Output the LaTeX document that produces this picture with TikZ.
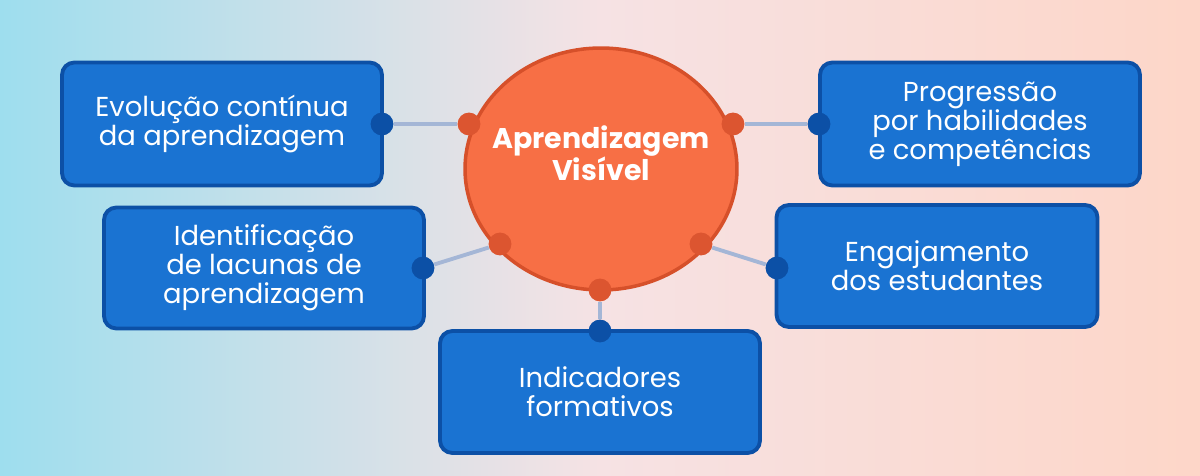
\documentclass[tikz,border=0pt]{standalone}
\usetikzlibrary{shapes.geometric}
\usepackage{fontspec}
\setmainfont{Poppins}
\begin{document}
\begin{tikzpicture}[x=0.02cm,y=-0.02cm,
  box/.style={draw=boxb,fill=boxf,line width=2.2pt,rounded corners=7pt,text=white,align=center,font=\fontsize{15.6}{16.6}\selectfont},
  od/.style={circle,fill=dotor,inner sep=0pt,minimum size=13pt},
  bd/.style={circle,fill=boxb,inner sep=0pt,minimum size=13pt},
  ln/.style={draw=lnc,line width=2.2pt}]
\definecolor{boxf}{HTML}{1A73D2}
\definecolor{boxb}{HTML}{0C50A6}
\definecolor{circf}{HTML}{F76F45}
\definecolor{circb}{HTML}{D6502A}
\definecolor{dotor}{HTML}{DC5530}
\definecolor{lnc}{HTML}{A4B6D6}
\definecolor{bgc}{HTML}{9EDEEE}
\definecolor{bgm}{HTML}{F6E2E4}
\definecolor{bgr}{HTML}{FDD6C8}
\useasboundingbox (0,0) rectangle (1200,476);
\shade[left color=bgc,right color=bgr,middle color=bgm] (0,0) rectangle (1200,476);
\node[ellipse,draw=circb,fill=circf,line width=2pt,minimum width=5.44cm,minimum height=4.84cm,inner sep=0pt] (c) at (601,169) {};
\node[text=white,align=center,font=\bfseries\fontsize{16.2}{18}\selectfont] (t) at (601,153) {Aprendizagem\\Visível};
\node[box,minimum width=6.4cm,minimum height=2.46cm] (b1) at (222,124) {Evolução contínua\\da aprendizagem};
\node[box,minimum width=6.4cm,minimum height=2.46cm] (b2) at (980,124) {Progressão\\por habilidades\\e competências};
\node[box,minimum width=6.4cm,minimum height=2.42cm] (b3) at (264,268) {Identificação\\de lacunas de\\aprendizagem};
\node[box,minimum width=6.42cm,minimum height=2.44cm] (b4) at (937,266) {Engajamento\\dos estudantes};
\node[box,minimum width=6.4cm,minimum height=2.44cm] (b5) at (600,392) {Indicadores\\formativos};
\node[od] (o1) at (469,124) {}; \node[bd] (d1) at (382,124) {};
\node[od] (o2) at (733,124) {}; \node[bd] (d2) at (819,124) {};
\node[od] (o3) at (500,244) {}; \node[bd] (d3) at (423,268) {};
\node[od] (o4) at (701,244) {}; \node[bd] (d4) at (777,268) {};
\node[od] (o5) at (600,290) {}; \node[bd] (d5) at (600,331) {};
\foreach \i in {1,...,5}{\draw[ln] (o\i) -- (d\i);}
\end{tikzpicture}
\end{document}
